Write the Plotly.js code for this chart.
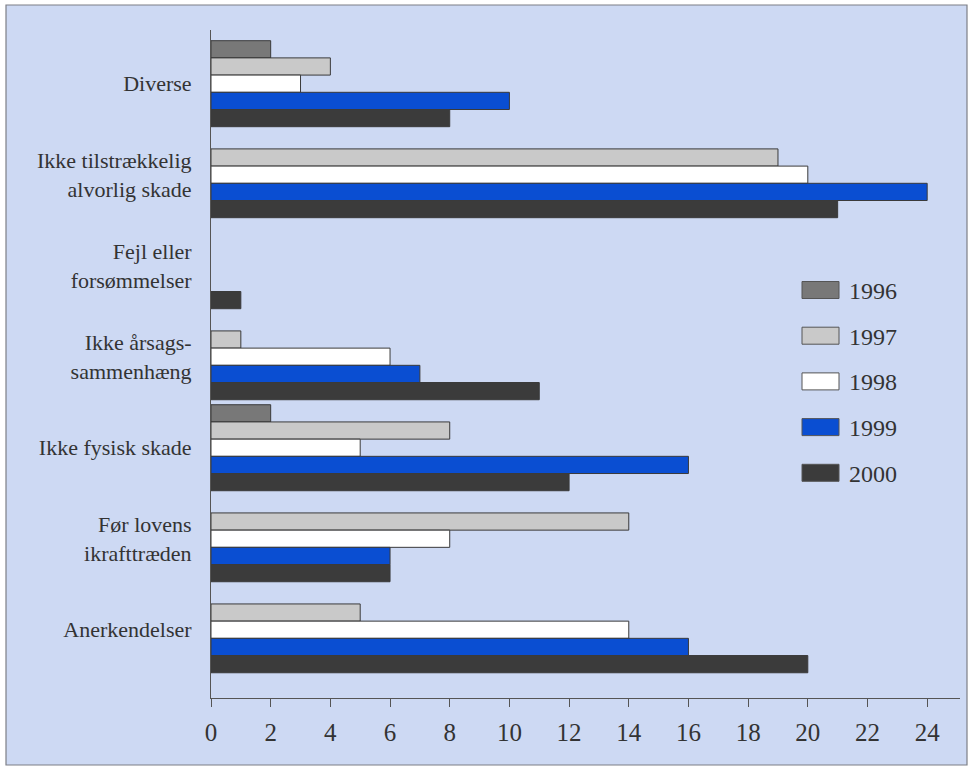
<!DOCTYPE html>
<html>
<head>
<meta charset="utf-8">
<script src="https://cdn.plot.ly/plotly-3.0.1.min.js"></script>
<style>html,body{margin:0;padding:0;background:#fff;}#chart{width:972px;height:766px;}</style>
</head>
<body>
<div id="chart"></div>
<script>
// ---- data ----
const categories = [
  'Diverse',
  'Ikke tilstrækkelig<br>alvorlig skade',
  'Fejl eller<br>forsømmelser',
  'Ikke årsags-<br>sammenhæng',
  'Ikke fysisk skade',
  'Før lovens<br>ikrafttræden',
  'Anerkendelser'
];
const years = ['1996', '1997', '1998', '1999', '2000'];
const v1996 = [2, null, null, null, 2, null, null];
const v1997 = [4, 19, null, 1, 8, 14, 5];
const v1998 = [3, 20, null, 6, 5, 8, 14];
const v1999 = [10, 24, null, 7, 16, 6, 16];
const v2000 = [8, 21, 1, 11, 12, 6, 20];
const xTicks = [0, 2, 4, 6, 8, 10, 12, 14, 16, 18, 20, 22, 24];

// ---- styling ----
const seriesValues = [v1996, v1997, v1998, v1999, v2000];
const colors = ['#787878', '#c9c9c9', '#ffffff', '#0a4ed2', '#3b3b3b'];
const FONT = 'Liberation Serif';
const W = 972, H = 766;
const M = {l: 211, r: 12, t: 30, b: 68};
const PW = W - M.l - M.r, PH = H - M.t - M.b;
const px = x => (x - M.l) / PW;
const py = y => (H - M.b - y) / PH;

const traces = years.map((yr, i) => ({
  type: 'bar',
  orientation: 'h',
  name: yr,
  y: categories,
  x: seriesValues[i],
  marker: {color: colors[i], line: {color: '#3a3a3a', width: 1}},
  hoverinfo: 'x+name'
}));

const shapes = [{
  type: 'rect', xref: 'paper', yref: 'paper', layer: 'below',
  x0: px(6), x1: px(967), y0: py(765), y1: py(5),
  fillcolor: '#cdd9f3', line: {color: '#7d7f86', width: 1.2}
}];
const annotations = [];
years.forEach((yr, i) => {
  const cy = 290 + i * 45.7;
  shapes.push({
    type: 'rect', xref: 'paper', yref: 'paper',
    x0: px(802), x1: px(839), y0: py(cy + 8.5), y1: py(cy - 8.5),
    fillcolor: colors[i], line: {color: '#555', width: 1}
  });
  annotations.push({
    xref: 'paper', yref: 'paper', x: px(847), y: py(cy + 1),
    xanchor: 'left', yanchor: 'middle', showarrow: false,
    text: yr, font: {family: FONT, size: 24, color: '#333'}
  });
});

const layout = {
  width: W, height: H,
  margin: M,
  paper_bgcolor: '#ffffff',
  plot_bgcolor: 'rgba(0,0,0,0)',
  barmode: 'group',
  bargap: 0.055,
  bargroupgap: 0,
  showlegend: false,
  font: {family: FONT, color: '#333'},
  xaxis: {
    range: [0, 25.1],
    tickvals: xTicks,
    ticktext: xTicks.map(String),
    showgrid: false, zeroline: false,
    showline: true, linecolor: '#555', linewidth: 1,
    ticks: 'outside', ticklen: 8, tickcolor: '#555', tickwidth: 1,
    ticklabelstandoff: 4,
    tickfont: {family: FONT, size: 25, color: '#333'},
    fixedrange: true
  },
  yaxis: {
    type: 'category',
    categoryorder: 'array', categoryarray: categories,
    range: [6.75, -0.59],
    showgrid: false, zeroline: false,
    showline: true, linecolor: '#555', linewidth: 1,
    ticks: '',
    ticklabelstandoff: 14,
    tickfont: {family: FONT, size: 22, color: '#333'},
    fixedrange: true
  },
  shapes: shapes,
  annotations: annotations
};

Plotly.newPlot('chart', traces, layout, {displayModeBar: false, staticPlot: true});
</script>
</body>
</html>
